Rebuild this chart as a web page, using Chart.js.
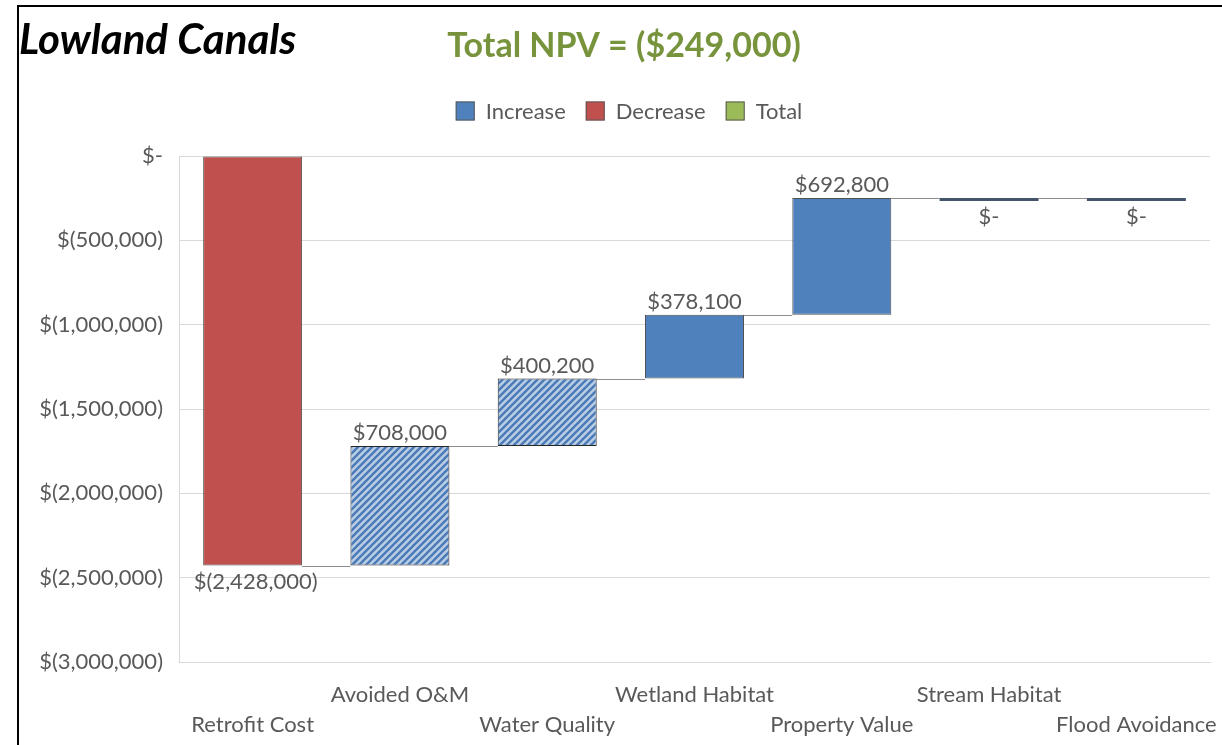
<!DOCTYPE html>
<html><head><meta charset="utf-8">
<script src="https://cdn.jsdelivr.net/npm/chart.js@4/dist/chart.umd.min.js"></script>
<style>html,body{margin:0;padding:0;background:#fff;}canvas{display:block;}</style>
</head><body>
<canvas id="c" width="1222" height="745"></canvas>
<script>
// ---- data ----
const categories = ['Retrofit Cost','Avoided O&M','Water Quality','Wetland Habitat','Property Value','Stream Habitat','Flood Avoidance'];
const changes = [-2428000, 708000, 400200, 378100, 692800, 0, 0];
const estimated = [false, true, true, false, false, false, false];
const yMin = -3000000, yMax = 0, yStep = 500000;
const chartTitle = 'Lowland Canals';
const npvTitle = 'Total NPV = ($249,000)';
const legendLabels = ['Increase','Decrease','Total'];

// ---- derived ranges ----
const ranges = [];
let run = 0;
changes.forEach(v => { ranges.push([run, run + v]); run += v; });

const FONT = 'Lato, "Open Sans", sans-serif';
const GRAY = '#595959';
const C_INC = '#4F81BD', C_DEC = '#C0504D', C_TOT = '#9BBB59', C_ZERO = '#44546A';

function fmt(v){
  if (v === 0) return '$-';
  const s = Math.abs(Math.round(v)).toString().replace(/\B(?=(\d{3})+(?!\d))/g, ',');
  return v < 0 ? '$(' + s + ')' : '$' + s;
}

function makeHatch(){
  const n = 7;
  const c = document.createElement('canvas'); c.width = n; c.height = n;
  const g = c.getContext('2d');
  g.fillStyle = '#B9CDE5'; g.fillRect(0,0,n,n);
  g.strokeStyle = '#4A7BB7'; g.lineWidth = 2.4;
  g.beginPath();
  g.moveTo(-1, n+1); g.lineTo(n+1, -1);
  g.moveTo(-1, 1); g.lineTo(1, -1);
  g.moveTo(n-1, n+1); g.lineTo(n+1, n-1);
  g.stroke();
  return g.createPattern(c, 'repeat');
}
const hatch = makeHatch();

const bgColors = changes.map((v,i) => v === 0 ? C_ZERO : (v < 0 ? C_DEC : (estimated[i] ? hatch : C_INC)));
const bWidths = changes.map(v => v === 0 ? 0 : 1);
const bColors = changes.map((v,i) => estimated[i] ? '#262626' : '#505050');

const framePlugin = {
  id: 'frame',
  beforeDraw(chart){
    const ctx = chart.ctx;
    ctx.save();
    ctx.fillStyle = '#fff'; ctx.fillRect(0,0,chart.width,chart.height);
    ctx.fillStyle = '#000';
    ctx.fillRect(17, 5, chart.width - 17, 2);
    ctx.fillRect(17, 5, 2, chart.height - 5);
    ctx.restore();
  }
};

const connectorPlugin = {
  id: 'connectors',
  beforeDatasetsDraw(chart){
    const meta = chart.getDatasetMeta(0);
    const y = chart.scales.y;
    const ctx = chart.ctx;
    ctx.save();
    ctx.strokeStyle = '#8C8C8C'; ctx.lineWidth = 1;
    for (let i = 0; i < meta.data.length - 1; i++){
      const a = meta.data[i], b = meta.data[i+1];
      const py = Math.round(y.getPixelForValue(ranges[i][1])) + 0.5;
      ctx.beginPath();
      ctx.moveTo(a.x + a.width/2, py);
      ctx.lineTo(b.x - b.width/2, py);
      ctx.stroke();
    }
    ctx.restore();
  }
};

const labelPlugin = {
  id: 'valueLabels',
  afterDatasetsDraw(chart){
    const meta = chart.getDatasetMeta(0);
    const ctx = chart.ctx;
    ctx.save();
    ctx.font = '22px ' + FONT;
    ctx.fillStyle = GRAY;
    ctx.textAlign = 'center';
    ctx.textBaseline = 'middle';
    meta.data.forEach((el, i) => {
      const top = Math.min(el.y, el.base), bottom = Math.max(el.y, el.base);
      const v = changes[i];
      if (v > 0) ctx.fillText(fmt(v), el.x, top - 13);
      else ctx.fillText(fmt(v), el.x + (v < 0 ? 3 : 0), bottom + 16);
    });
    ctx.restore();
  }
};

const headerPlugin = {
  id: 'header',
  afterDraw(chart){
    const ctx = chart.ctx;
    ctx.save();
    ctx.textBaseline = 'alphabetic';
    ctx.fillStyle = '#000';
    ctx.font = 'italic bold 42px ' + FONT;
    ctx.textAlign = 'left';
    ctx.fillText(chartTitle, 19, 54);
    ctx.fillStyle = '#77933C';
    ctx.font = 'bold 34px ' + FONT;
    ctx.textAlign = 'center';
    ctx.fillText(npvTitle, 624, 57);
    // legend
    const cols = [C_INC, C_DEC, C_TOT];
    ctx.font = '22px ' + FONT;
    const box = 19, gap = 11, sp = 20;
    const widths = legendLabels.map(t => ctx.measureText(t).width);
    const total = widths.reduce((s,w) => s + box + gap + w, 0) + sp * (legendLabels.length - 1);
    let x = 629 - total/2;
    const cy = 111;
    ctx.textAlign = 'left'; ctx.textBaseline = 'middle';
    legendLabels.forEach((t, i) => {
      ctx.fillStyle = cols[i];
      ctx.fillRect(x, cy - box/2, box, box);
      ctx.strokeStyle = '#5a5a5a'; ctx.lineWidth = 1;
      ctx.strokeRect(x + 0.5, cy - box/2 + 0.5, box - 1, box - 1);
      ctx.fillStyle = GRAY;
      ctx.fillText(t, x + box + gap, cy + 1);
      x += box + gap + widths[i] + sp;
    });
    ctx.restore();
  }
};

new Chart(document.getElementById('c'), {
  type: 'bar',
  data: {
    labels: categories,
    datasets: [{
      data: ranges,
      backgroundColor: bgColors,
      borderColor: bColors,
      borderWidth: bWidths,
      borderSkipped: false,
      minBarLength: 3,
      barPercentage: 0.672,
      categoryPercentage: 1
    }]
  },
  options: {
    responsive: false,
    animation: false,
    devicePixelRatio: 1,
    layout: { padding: { top: 156, right: 12, left: 0, bottom: 0 } },
    plugins: { legend: { display: false }, title: { display: false }, tooltip: { enabled: false } },
    scales: {
      x: {
        grid: { display: false, drawTicks: false },
        border: { display: true, color: '#D9D9D9' },
        ticks: {
          autoSkip: false, maxRotation: 0, minRotation: 0, padding: 18,
          color: GRAY, font: { family: FONT, size: 22, lineHeight: 30/22 },
          callback: function(val, i){ const t = categories[i]; return i % 2 === 1 ? [t, ''] : ['', t]; }
        },
        afterFit(s){ s.height = 83; s.paddingLeft = 0; s.paddingRight = 0; }
      },
      y: {
        min: yMin, max: yMax,
        grid: { color: '#D9D9D9', drawTicks: false },
        border: { display: true, color: '#D9D9D9' },
        ticks: {
          stepSize: yStep, padding: 16, color: GRAY,
          font: { family: FONT, size: 22 },
          callback: v => fmt(v)
        },
        afterFit(s){ s.width = 179; s.paddingTop = 0; s.paddingBottom = 0; }
      }
    }
  },
  plugins: [framePlugin, connectorPlugin, labelPlugin, headerPlugin]
});
</script>
</body></html>
